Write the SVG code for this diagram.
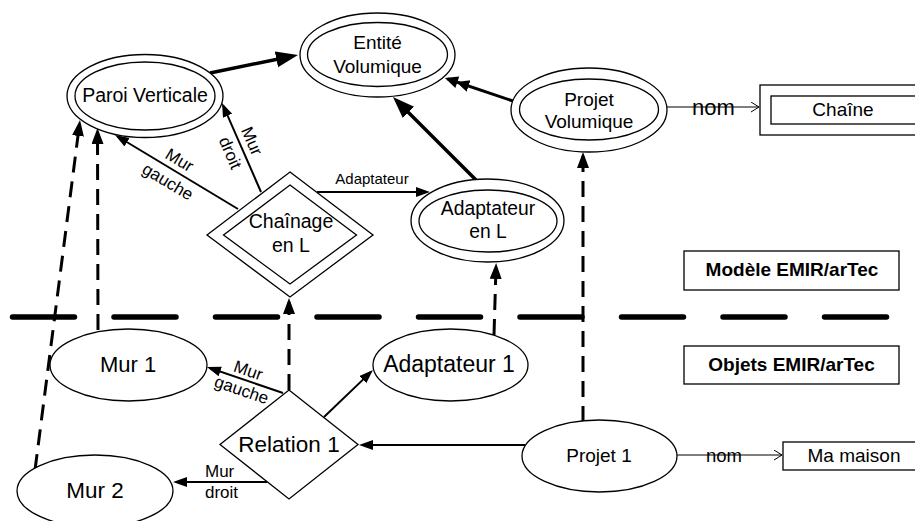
<svg xmlns="http://www.w3.org/2000/svg" width="915" height="521" viewBox="0 0 915 521">
<defs>
<style>
.n{fill:#fff;stroke:#000;stroke-width:1.3}
.t{font-family:"Liberation Sans",Arial,sans-serif;fill:#000;text-anchor:middle}
.l{font-family:"Liberation Sans",Arial,sans-serif;fill:#000}
.b{font-weight:bold}
.s{stroke:#000;fill:none;stroke-width:2}
.k{stroke:#000;fill:none;stroke-width:3.5}
.d{stroke:#000;fill:none;stroke-width:3;stroke-dasharray:16 9}
.nm{stroke:#000;fill:none;stroke-width:1}
.sep{stroke:#000;fill:none;stroke-width:5.5;stroke-linecap:round;stroke-dasharray:62 39.5}
</style>
<marker id="aT" markerUnits="userSpaceOnUse" markerWidth="24" markerHeight="18" refX="16" refY="8" orient="auto"><path d="M0,0 L22,8 L0,16 z" fill="#000"/></marker>
<marker id="a" markerUnits="userSpaceOnUse" markerWidth="16" markerHeight="12" refX="11" refY="5" orient="auto"><path d="M0,0 L14,5 L0,10 z" fill="#000"/></marker>
<marker id="aD" markerUnits="userSpaceOnUse" markerWidth="18" markerHeight="14" refX="12" refY="6" orient="auto"><path d="M0,0 L16,6 L0,12 z" fill="#000"/></marker>
<marker id="a2" markerUnits="userSpaceOnUse" markerWidth="28" markerHeight="14" refX="22" refY="6" orient="auto"><path d="M0,0 L13,6 L0,12 z M12,0 L25,6 L12,12 z" fill="#000"/></marker>
<marker id="o" markerUnits="userSpaceOnUse" markerWidth="10" markerHeight="12" refX="8" refY="5" orient="auto"><path d="M0,0 L8,5 L0,10" fill="none" stroke="#000" stroke-width="1"/></marker>
</defs>

<line class="sep" x1="12.5" y1="317" x2="887" y2="317"/>

<g id="connectors">
<line class="k" x1="210" y1="73" x2="292.1" y2="56.2" marker-end="url(#aT)"/>
<line class="k" x1="477" y1="181" x2="397.2" y2="101.2" marker-end="url(#aT)"/>
<line class="k" x1="513" y1="101" x2="447.8" y2="79" style="stroke-width:3" marker-end="url(#a2)"/>
<line class="s" x1="238" y1="209" x2="117.6" y2="136.5" marker-end="url(#a)"/>
<line class="s" x1="261" y1="192" x2="223.2" y2="105.7" marker-end="url(#a)"/>
<line class="s" x1="317" y1="192" x2="427" y2="192" marker-end="url(#a)"/>
<line class="s" x1="283" y1="393" x2="209.8" y2="368" marker-end="url(#a)"/>
<line class="s" x1="267" y1="482" x2="176" y2="482" marker-end="url(#a)"/>
<line class="s" x1="324" y1="417" x2="370.8" y2="372.1" marker-end="url(#a)"/>
<line class="s" x1="525" y1="445" x2="362" y2="445" marker-end="url(#a)"/>
<line class="d" x1="35" y1="470" x2="79.5" y2="124" marker-end="url(#aD)"/>
<line class="d" x1="98" y1="330" x2="97.5" y2="132" marker-end="url(#aD)"/>
<line class="d" x1="289" y1="390" x2="289" y2="302" marker-end="url(#aD)"/>
<line class="d" x1="494" y1="335" x2="496" y2="267" marker-end="url(#aD)"/>
<line class="d" x1="583" y1="422" x2="583" y2="156" marker-end="url(#aD)"/>
<text class="l" x="692" y="115" style="font-size:22px">nom</text>
<line class="nm" x1="667" y1="107" x2="759" y2="107" marker-end="url(#o)"/>
<text class="l" x="706" y="462" style="font-size:18.5px">nom</text>
<line class="nm" x1="677" y1="455" x2="782" y2="455" marker-end="url(#o)"/>
<text class="t" x="372" y="184" style="font-size:15px">Adaptateur</text>
<g transform="translate(175,171.6) rotate(31)" class="t" style="font-size:17px"><text x="-2" y="-6.5">Mur</text><text x="-1" y="18">gauche</text></g>
<g transform="translate(240.8,146) rotate(66.3)" class="t" style="font-size:17px"><text x="0" y="-6.5">Mur</text><text x="2" y="18">droit</text></g>
<g transform="translate(245,380) rotate(18.9)" class="t" style="font-size:17px"><text x="0" y="-4.4">Mur</text><text x="0" y="16.2">gauche</text></g>
<text class="l" x="205" y="477" style="font-size:17px">Mur</text>
<text class="l" x="205" y="498" style="font-size:17px">droit</text>
</g>

<g id="entite-volumique">
<ellipse class="n" cx="377.5" cy="55" rx="77.5" ry="42"/>
<ellipse class="n" cx="377.5" cy="54.5" rx="70" ry="32"/>
<text class="t" x="377.5" y="49" style="font-size:19px">Entité</text>
<text class="t" x="377.5" y="73" style="font-size:19px">Volumique</text>
</g>
<g id="paroi-verticale">
<ellipse class="n" cx="145" cy="96" rx="78" ry="41.5"/>
<ellipse class="n" cx="145" cy="96" rx="70" ry="34"/>
<text class="t" x="145" y="102" style="font-size:19.5px">Paroi Verticale</text>
</g>
<g id="projet-volumique">
<ellipse class="n" cx="589" cy="110" rx="78" ry="42"/>
<ellipse class="n" cx="589" cy="109.5" rx="69.5" ry="30.5"/>
<text class="t" x="589" y="106" style="font-size:19px">Projet</text>
<text class="t" x="589" y="128" style="font-size:19px">Volumique</text>
</g>
<g id="chaine">
<rect class="n" x="760" y="85" width="170" height="50"/>
<rect class="n" x="771" y="96" width="160" height="28"/>
<text class="t" x="843" y="116" style="font-size:19px">Chaîne</text>
</g>
<g id="chainage-en-l">
<polygon class="n" points="290,172 373,235 290,297 207,235"/>
<polygon class="n" points="290,185 356.5,235 290,284 223.5,235"/>
<text class="t" x="291" y="228" style="font-size:19.5px">Chaînage</text>
<text class="t" x="291" y="252" style="font-size:19.5px">en L</text>
</g>
<g id="adaptateur-en-l">
<ellipse class="n" cx="487.5" cy="220.5" rx="76.5" ry="41.5"/>
<ellipse class="n" cx="488" cy="221" rx="69" ry="31"/>
<text class="t" x="488" y="215" style="font-size:19.3px">Adaptateur</text>
<text class="t" x="488" y="238" style="font-size:19.3px">en L</text>
</g>
<g id="modele-label">
<rect class="n" x="684" y="251" width="215" height="39"/>
<text class="t b" x="792" y="276" style="font-size:19px">Modèle EMIR/arTec</text>
</g>
<g id="objets-label">
<rect class="n" x="684" y="346" width="215" height="38"/>
<text class="t b" x="791.5" y="371" style="font-size:19px">Objets EMIR/arTec</text>
</g>
<g id="mur-1">
<ellipse class="n" cx="128.5" cy="365" rx="78.5" ry="36"/>
<text class="t" x="128" y="372" style="font-size:22px">Mur 1</text>
</g>
<g id="mur-2">
<ellipse class="n" cx="95" cy="491" rx="78" ry="36"/>
<text class="t" x="95" y="498" style="font-size:22.5px">Mur 2</text>
</g>
<g id="relation-1">
<polygon class="n" points="289,390 358,444.5 289,499 220,444.5"/>
<text class="t" x="289" y="452" style="font-size:22.5px">Relation 1</text>
</g>
<g id="adaptateur-1">
<ellipse class="n" cx="450.5" cy="365" rx="77.5" ry="36"/>
<text class="t" x="449" y="372" style="font-size:23px">Adaptateur 1</text>
</g>
<g id="projet-1">
<ellipse class="n" cx="599.5" cy="456" rx="77.5" ry="36"/>
<text class="t" x="599" y="462" style="font-size:19px">Projet 1</text>
</g>
<g id="ma-maison">
<rect class="n" x="783" y="442" width="150" height="28"/>
<text class="t" x="854" y="462" style="font-size:19px">Ma maison</text>
</g>
</svg>
